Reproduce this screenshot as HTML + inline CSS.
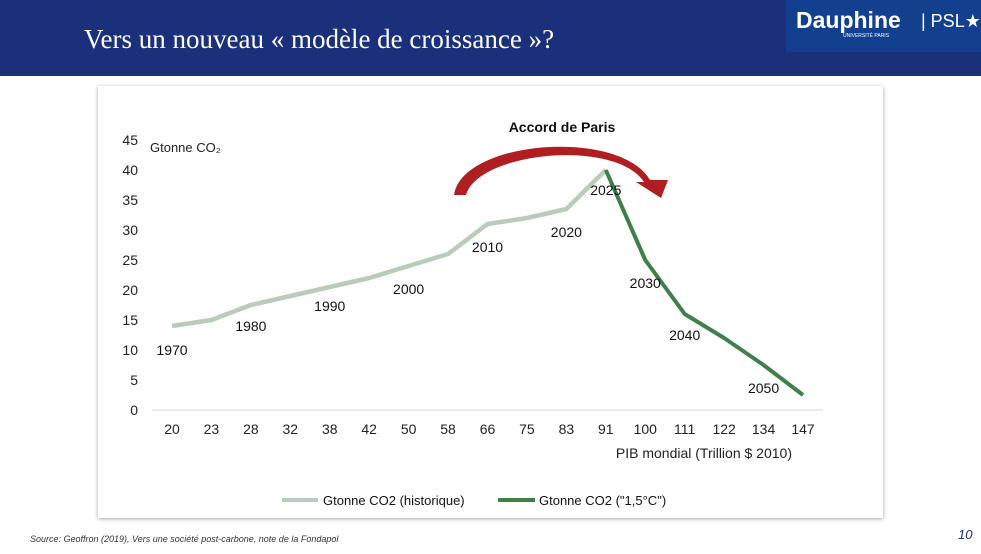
<!DOCTYPE html>
<html><head><meta charset="utf-8"><style>
body{margin:0;width:981px;height:554px;position:relative;background:#fff;overflow:hidden;font-family:"Liberation Sans",sans-serif}
.hdr{position:absolute;left:0;top:0;width:981px;height:76px;background:#1b307a}
.title{position:absolute;left:84px;top:24px;color:#fff;font-family:"Liberation Serif",serif;font-size:27px}
.logo{position:absolute;left:786px;top:0;width:195px;height:52px;background:#12408f;color:#fff}
.card{position:absolute;left:98px;top:86px;width:785px;height:432px;background:#fff;box-shadow:0 1px 4px rgba(0,0,0,.35)}
.src{position:absolute;left:30px;top:534px;font-size:9px;font-style:italic;color:#333}
.pg{position:absolute;left:958px;top:527px;font-size:13px;font-style:italic;color:#1b307a}
svg text{font-family:"Liberation Sans",sans-serif}
</style></head><body>
<div class="hdr"></div>
<div class="title">Vers un nouveau « modèle de croissance »?</div>
<div class="logo"><span style="position:absolute;left:10px;top:7px;font-size:23px;font-weight:bold">Dauphine</span><span style="position:absolute;left:57px;top:33px;font-size:5px">UNIVERSITÉ PARIS</span><span style="position:absolute;left:135px;top:11px;font-size:18px">| PSL★</span></div>
<div class="card"></div>
<svg id="chart" width="981" height="554" style="position:absolute;left:0;top:0"></svg>
<div class="src">Source: Geoffron (2019), Vers une société post-carbone, note de la Fondapol</div>
<div class="pg">10</div>
<script>
const cats=["20","23","28","32","38","42","50","58","66","75","83","91","100","111","122","134","147"];
const yTicks=[0,5,10,15,20,25,30,35,40,45];
const histValues=[14,15,17.5,19,20.5,22,24,26,31,32,33.5,40];
const scenValues=[40,25,16,12,7.5,2.5];
const histYears=["1970","1980","1990","2000","2010","2020","2025"];
const histYearIdx=[0,2,4,6,8,10,11];
const scenYears=["2030","2040","2050"];
const scenYearIdx=[12,13,15];
const svg=document.getElementById('chart');const NS='http://www.w3.org/2000/svg';
const x=i=>172+i*(803-172)/(cats.length-1);
const y=v=>410-v*6;
function mk(t,a,txt){const e=document.createElementNS(NS,t);for(const k in a)e.setAttribute(k,a[k]);if(txt!==undefined)e.textContent=txt;svg.appendChild(e);return e;}
let e=mk('line',{x1:152,x2:823,y1:410,y2:410,stroke:'#d9d9d9','stroke-width':1});

yTicks.forEach(v=>{const t=mk('text',{x:138,y:y(v)+5,'text-anchor':'end','font-size':14,fill:'#222'},v);
});
cats.forEach((c,i)=>{const t=mk('text',{x:x(i),y:434,'text-anchor':'middle','font-size':14,fill:'#222'},c);
});
e=mk('text',{x:150,y:152,'font-size':13,fill:'#222'},'Gtonne CO₂');
e=mk('text',{x:792,y:458,'text-anchor':'end','font-size':14,fill:'#222'},'PIB mondial (Trillion $ 2010)');
// arrow
e=mk('path',{d:'M454,195 C462,140 620,128 650,180 L668,180 L661,198 L636,182 L644,182 C615,138 478,152 466,195 Z',fill:'#b01e22'});

e=mk('text',{x:562,y:132,'text-anchor':'middle','font-size':14,'font-weight':'bold',fill:'#111'},'Accord de Paris');
e=mk('polyline',{points:histValues.map((v,i)=>x(i)+','+y(v)).join(' '),fill:'none',stroke:'#b9ccb9','stroke-width':4.5,'stroke-linejoin':'round'});

e=mk('polyline',{points:scenValues.map((v,i)=>x(i+11)+','+y(v)).join(' '),fill:'none',stroke:'#3f7f48','stroke-width':4,'stroke-linejoin':'round'});

const histOff=[24,21,19,23,23,23,20];
histYearIdx.forEach((idx,k)=>{const t=mk('text',{x:x(idx),y:y(histValues[idx])+histOff[k]+5,'text-anchor':'middle','font-size':14,fill:'#111'},histYears[k]);
});
const scenOff=[23,21,23];
scenYearIdx.forEach((idx,k)=>{const t=mk('text',{x:x(idx),y:y(scenValues[idx-11])+scenOff[k]+5,'text-anchor':'middle','font-size':14,fill:'#111'},scenYears[k]);
});
e=mk('line',{x1:282,x2:318,y1:500,y2:500,stroke:'#b9ccb9','stroke-width':4});
e=mk('text',{x:323,y:505,'font-size':13,fill:'#111'},'Gtonne CO2 (historique)');
e=mk('line',{x1:498,x2:535,y1:500,y2:500,stroke:'#3f7f48','stroke-width':4});
e=mk('text',{x:539,y:505,'font-size':13,fill:'#111'},'Gtonne CO2 ("1,5°C")');
</script>
</body></html>
